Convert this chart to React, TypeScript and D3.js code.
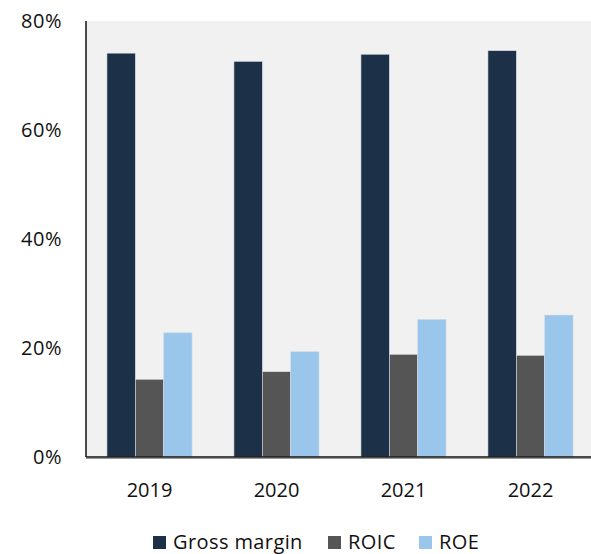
import React from "react";
import * as d3 from "d3";

const years = ["2019", "2020", "2021", "2022"];
const grossMargin = [0.741, 0.726, 0.739, 0.7455];
const roic = [0.1426, 0.1565, 0.1884, 0.1865];
const roe = [0.228, 0.1932, 0.2526, 0.2605];
const seriesNames = ["Gross margin", "ROIC", "ROE"];
const seriesColors = ["#1c3048", "#555555", "#9bc6ec"];
const yTicks = [0, 0.2, 0.4, 0.6, 0.8];

const W = 591;
const H = 554;
const left = 86;
const top = 21;
const bottom = 457;
const FONT = "'Open Sans', Lato, sans-serif";

export default function App() {
  const x = d3.scaleBand<string>().domain(years).range([left, left + 127 * 4]).paddingInner(0.33).paddingOuter(0.165);
  const sub = d3.scaleBand<number>().domain([0, 1, 2]).range([0, x.bandwidth()]);
  const y = d3.scaleLinear().domain([0, 0.8]).range([bottom, top]);
  const series = [grossMargin, roic, roe];
  const fmt = d3.format(".0%");
  const legendX = [153, 328, 419];

  return (
    <svg width={W} height={H} style={{ position: "absolute", left: 0, top: 0 }} fontFamily={FONT}>
      <rect x={left} y={top} width={W - left} height={bottom - top} fill="#f1f1f1" />
      {years.map((yr, i) => (
        <g key={yr}>
          {series.map((s, j) => (
            <rect
              key={j}
              x={(x(yr) as number) + (sub(j) as number)}
              y={y(s[i])}
              width={sub.bandwidth()}
              height={bottom - y(s[i])}
              fill={seriesColors[j]}
              stroke="#d6dde4"
              strokeWidth={0.6}
            />
          ))}
          <text
            x={(x(yr) as number) + x.bandwidth() / 2}
            y={497}
            textAnchor="middle"
            fontSize={20}
            fill="#111"
          >
            {yr}
          </text>
        </g>
      ))}
      <line x1={left} x2={left} y1={top} y2={bottom} stroke="#111" strokeWidth={1.5} />
      <line x1={left} x2={W} y1={bottom} y2={bottom} stroke="#111" strokeWidth={1.5} />
      <line x1={left} x2={W} y1={bottom + 1.5} y2={bottom + 1.5} stroke="#999" strokeWidth={1} />
      {yTicks.map((t) => (
        <text key={t} x={62} y={y(t)} dy="0.35em" textAnchor="end" fontSize={20} letterSpacing={0.5} fill="#111">
          {fmt(t)}
        </text>
      ))}
      {seriesNames.map((n, j) => (
        <g key={n}>
          <rect x={legendX[j]} y={536} width={13} height={13} fill={seriesColors[j]} />
          <text x={legendX[j] + 20} y={549} fontSize={20} letterSpacing={0.4} fill="#111">
            {n}
          </text>
        </g>
      ))}
    </svg>
  );
}
